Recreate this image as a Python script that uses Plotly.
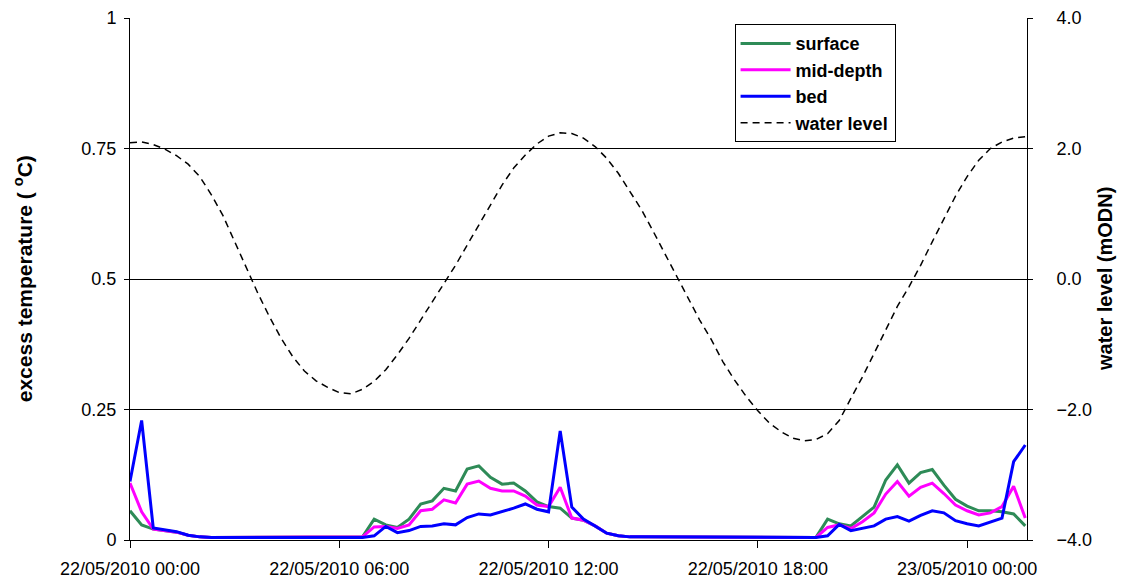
import pandas as pd
import plotly.graph_objects as go

# 20 minute readings from 22/05/2010 00:00 to 23/05/2010 01:40
times = pd.date_range("2010-05-22 00:00", periods=78, freq="20min")

surface = [0.056, 0.029, 0.021, 0.018, 0.015, 0.009, 0.006, 0.005, 0.005, 0.005,
           0.005, 0.005, 0.005, 0.005, 0.005, 0.005, 0.005, 0.005, 0.005, 0.005,
           0.006, 0.040, 0.029, 0.024, 0.040, 0.069, 0.075, 0.099, 0.094, 0.136,
           0.142, 0.120, 0.107, 0.109, 0.094, 0.073, 0.064, 0.061, 0.042, 0.038,
           0.027, 0.013, 0.008, 0.006, 0.006, 0.006, 0.006, 0.005, 0.005, 0.005,
           0.005, 0.005, 0.005, 0.005, 0.005, 0.005, 0.005, 0.005, 0.005, 0.005,
           0.040, 0.031, 0.027, 0.045, 0.063, 0.115, 0.144, 0.109, 0.129, 0.135,
           0.105, 0.078, 0.065, 0.056, 0.056, 0.054, 0.050, 0.027]

mid_depth = [0.109, 0.054, 0.021, 0.018, 0.015, 0.009, 0.006, 0.005, 0.005, 0.005,
             0.005, 0.005, 0.005, 0.005, 0.005, 0.005, 0.005, 0.005, 0.005, 0.005,
             0.006, 0.025, 0.026, 0.022, 0.029, 0.056, 0.059, 0.077, 0.071, 0.107,
             0.113, 0.099, 0.094, 0.094, 0.084, 0.067, 0.064, 0.101, 0.042, 0.038,
             0.027, 0.013, 0.008, 0.006, 0.006, 0.006, 0.006, 0.005, 0.005, 0.005,
             0.005, 0.005, 0.005, 0.005, 0.005, 0.005, 0.005, 0.005, 0.005, 0.005,
             0.024, 0.029, 0.022, 0.035, 0.052, 0.088, 0.112, 0.084, 0.101, 0.109,
             0.089, 0.067, 0.056, 0.048, 0.052, 0.064, 0.103, 0.042]

bed = [0.112, 0.229, 0.023, 0.019, 0.016, 0.009, 0.006, 0.005, 0.005, 0.005,
       0.005, 0.005, 0.005, 0.005, 0.005, 0.005, 0.005, 0.005, 0.005, 0.005,
       0.005, 0.008, 0.026, 0.014, 0.018, 0.026, 0.027, 0.031, 0.029, 0.043,
       0.050, 0.048, 0.054, 0.061, 0.069, 0.059, 0.054, 0.209, 0.063, 0.040,
       0.027, 0.013, 0.008, 0.006, 0.006, 0.006, 0.006, 0.005, 0.005, 0.005,
       0.005, 0.005, 0.005, 0.005, 0.005, 0.005, 0.005, 0.005, 0.005, 0.005,
       0.008, 0.030, 0.018, 0.022, 0.027, 0.040, 0.045, 0.036, 0.047, 0.056,
       0.052, 0.037, 0.031, 0.027, 0.035, 0.042, 0.150, 0.182]

water_level = [2.09, 2.10, 2.06, 1.99, 1.89, 1.76, 1.57, 1.29, 0.97, 0.57,
               0.19, -0.22, -0.58, -0.91, -1.19, -1.41, -1.56, -1.66, -1.74, -1.76,
               -1.69, -1.57, -1.39, -1.16, -0.91, -0.63, -0.35, -0.07, 0.21, 0.52,
               0.83, 1.13, 1.44, 1.70, 1.90, 2.07, 2.19, 2.24, 2.23, 2.16,
               2.03, 1.85, 1.62, 1.34, 1.06, 0.73, 0.39, 0.06, -0.30, -0.63,
               -0.93, -1.27, -1.55, -1.80, -2.02, -2.21, -2.34, -2.44, -2.48, -2.46,
               -2.37, -2.17, -1.83, -1.50, -1.14, -0.77, -0.42, -0.12, 0.21, 0.57,
               0.93, 1.27, 1.57, 1.82, 2.00, 2.10, 2.16, 2.18]

x_ticks = ["2010-05-22 00:00", "2010-05-22 06:00", "2010-05-22 12:00",
           "2010-05-22 18:00", "2010-05-23 00:00"]
x_tick_labels = ["22/05/2010 00:00", "22/05/2010 06:00", "22/05/2010 12:00",
                 "22/05/2010 18:00", "23/05/2010 00:00"]
temp_ticks = [0, 0.25, 0.5, 0.75, 1]
level_ticks = [-4, -2, 0, 2, 4]

font = "Liberation Sans, Arial, sans-serif"

fig = go.Figure()
fig.add_trace(go.Scatter(x=times, y=surface, name="<b>surface</b>", mode="lines",
                         line=dict(color="#2E8B57", width=3)))
fig.add_trace(go.Scatter(x=times, y=mid_depth, name="<b>mid-depth</b>", mode="lines",
                         line=dict(color="#FF00FF", width=3)))
fig.add_trace(go.Scatter(x=times, y=bed, name="<b>bed</b>", mode="lines",
                         line=dict(color="#0000FF", width=3)))
fig.add_trace(go.Scatter(x=times, y=water_level, name="<b>water level</b>", mode="lines",
                         yaxis="y2", line=dict(color="black", width=1.5, dash="7px,5px")))

fig.update_layout(
    width=1123, height=585,
    margin=dict(l=130, r=96, t=18, b=45),
    plot_bgcolor="white", paper_bgcolor="white",
    font=dict(family=font, size=18, color="black"),
    xaxis=dict(range=["2010-05-22 00:00", "2010-05-23 01:43"], automargin=False,
               tickvals=x_ticks, ticktext=x_tick_labels, ticklabelstandoff=5,
               showgrid=False, showline=True, linecolor="black", linewidth=1,
               ticks="outside", ticklen=7, tickcolor="black", zeroline=False),
    yaxis=dict(range=[0, 1], tickvals=temp_ticks, ticktext=["0", "0.25", "0.5", "0.75", "1"],
               automargin=False, ticklabelstandoff=4,
               showgrid=True, gridcolor="black", gridwidth=1,
               showline=True, linecolor="black", linewidth=1,
               ticks="outside", ticklen=5, tickcolor="black", zeroline=False),
    yaxis2=dict(range=[-4, 4], tickvals=level_ticks, tickformat=".1f", automargin=False,
                overlaying="y", side="right", showgrid=False, ticklabelstandoff=20,
                showline=True, linecolor="black", linewidth=1,
                ticks="outside", ticklen=5, tickcolor="black", zeroline=False),
    legend=dict(x=0.674, y=0.988, xanchor="left", yanchor="top",
                bgcolor="white", bordercolor="black", borderwidth=1, itemwidth=50,
                font=dict(family=font, size=18), tracegroupgap=0),
    annotations=[
        dict(text="<b>excess temperature ( <sup>o</sup>C)</b>", xref="paper", yref="paper",
             x=-0.119, y=0.5, textangle=-90, showarrow=False,
             xanchor="center", yanchor="middle", font=dict(size=21)),
        dict(text="<b>water level (mODN)</b>", xref="paper", yref="paper",
             x=1.087, y=0.5, textangle=-90, showarrow=False,
             xanchor="center", yanchor="middle", font=dict(size=20)),
    ],
)

fig.write_html("out.html", config={"displayModeBar": False},
               post_script="document.body.style.margin='0';")
